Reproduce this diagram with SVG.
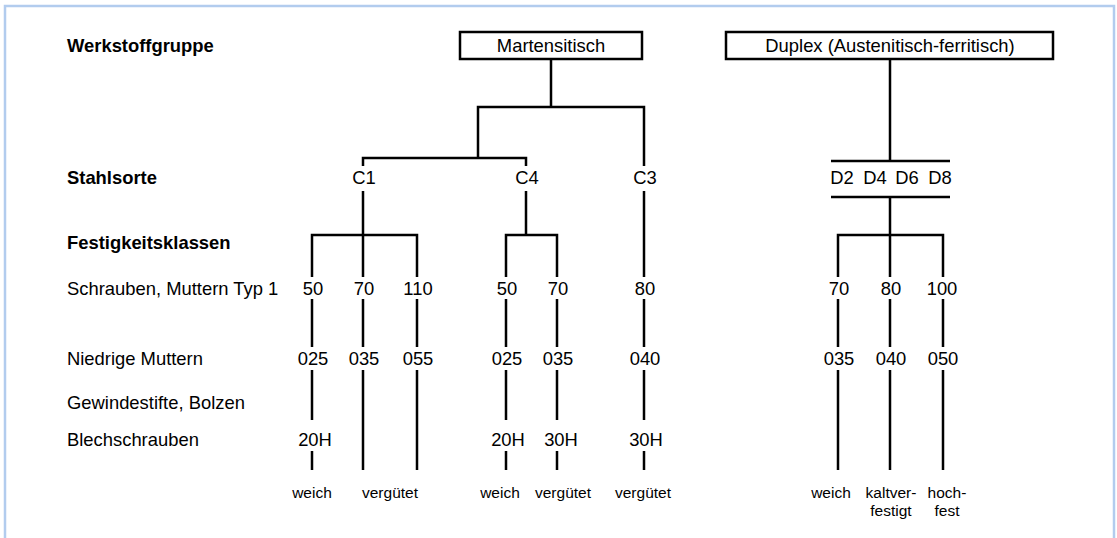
<svg xmlns="http://www.w3.org/2000/svg" width="1117" height="538" viewBox="0 0 1117 538">
  <style>
    text { font-family: "Liberation Sans", Arial, Helvetica, sans-serif; fill: #000; }
    .t { font-size: 18.4px; }
    .b { font-size: 18.4px; font-weight: bold; }
    .c { font-size: 18.4px; text-anchor: middle; }
    .s { font-size: 15.5px; text-anchor: middle; }
    .box { fill: #fff; stroke: #000; stroke-width: 2.5; }
    .ln { fill: none; stroke: #000; stroke-width: 2.5; stroke-linecap: butt; stroke-linejoin: miter; }
  </style>

  <!-- frame -->
  <rect x="5" y="6" width="1109" height="600" fill="#fff" stroke="#b2ccee" stroke-width="2.5"/>

  <!-- row headings -->
  <g id="headings">
    <text class="b" x="67" y="52">Werkstoffgruppe</text>
    <text class="b" x="67" y="184">Stahlsorte</text>
    <text class="b" x="67" y="249">Festigkeitsklassen</text>
    <text class="t" x="67" y="295">Schrauben, Muttern Typ 1</text>
    <text class="t" x="67" y="365">Niedrige Muttern</text>
    <text class="t" x="67" y="409">Gewindestifte, Bolzen</text>
    <text class="t" x="67" y="446">Blechschrauben</text>
  </g>

  <!-- connectors -->
  <g id="connectors" class="ln">
    <!-- Martensitisch tree -->
    <path class="ln" d="M551 59V107M478 158V107H644V166M363 166V158H526V166"/>
    <!-- C1 -->
    <path class="ln" d="M363 191V277M312 277V235H417V277"/>
    <!-- C4 -->
    <path class="ln" d="M526 191V235M506 277V235H557V277"/>
    <!-- C3 -->
    <path class="ln" d="M644 191V277"/>
    <!-- Duplex -->
    <path class="ln" d="M890 59V161M831 161H950M831 197H950M890 197V277M838 277V235H943V277"/>
    <!-- strength class to low nuts -->
    <path class="ln" d="M312 299V347M363 299V347M417 299V347M506 299V347M557 299V347M644 299V347M838 299V347M890 299V347M943 299V347"/>
    <!-- low nuts downward -->
    <path class="ln" d="M312 370V420M312 451V470M363 370V470M417 370V470M506 370V420M506 451V470M557 370V420M557 451V470M644 370V420M644 451V470M838 370V470M890 370V470M943 370V470"/>
  </g>

  <!-- material groups -->
  <g id="martensitisch">
    <rect class="box" x="460" y="32" width="182" height="27"/>
    <text class="c" x="551" y="52">Martensitisch</text>
  </g>
  <g id="duplex">
    <rect class="box" x="726" y="32" width="327" height="27"/>
    <text class="c" x="890" y="52">Duplex (Austenitisch-ferritisch)</text>
  </g>

  <!-- steel grades -->
  <g id="c1"><text class="c" x="364" y="184">C1</text></g>
  <g id="c4"><text class="c" x="527" y="184">C4</text></g>
  <g id="c3"><text class="c" x="645" y="184">C3</text></g>
  <g id="d-grades">
    <text class="c" x="842" y="184">D2</text>
    <text class="c" x="875" y="184">D4</text>
    <text class="c" x="907" y="184">D6</text>
    <text class="c" x="940" y="184">D8</text>
  </g>

  <!-- C1 classes -->
  <g id="c1-50">
    <text class="c" x="313" y="295">50</text>
    <text class="c" x="313" y="365">025</text>
    <text class="c" x="315" y="446">20H</text>
  </g>
  <g id="c1-70">
    <text class="c" x="364" y="295">70</text>
    <text class="c" x="364" y="365">035</text>
  </g>
  <g id="c1-110">
    <text class="c" x="418" y="295">110</text>
    <text class="c" x="418" y="365">055</text>
  </g>
  <g id="c1-states">
    <text class="s" x="312" y="498">weich</text>
    <text class="s" x="390" y="498">vergütet</text>
  </g>

  <!-- C4 classes -->
  <g id="c4-50">
    <text class="c" x="507" y="295">50</text>
    <text class="c" x="507" y="365">025</text>
    <text class="c" x="508" y="446">20H</text>
  </g>
  <g id="c4-70">
    <text class="c" x="558" y="295">70</text>
    <text class="c" x="558" y="365">035</text>
    <text class="c" x="561" y="446">30H</text>
  </g>
  <g id="c4-states">
    <text class="s" x="500" y="498">weich</text>
    <text class="s" x="563" y="498">vergütet</text>
  </g>

  <!-- C3 classes -->
  <g id="c3-80">
    <text class="c" x="645" y="295">80</text>
    <text class="c" x="645" y="365">040</text>
    <text class="c" x="646" y="446">30H</text>
    <text class="s" x="643" y="498">vergütet</text>
  </g>

  <!-- Duplex classes -->
  <g id="d-70">
    <text class="c" x="839" y="295">70</text>
    <text class="c" x="839" y="365">035</text>
    <text class="s" x="831" y="498">weich</text>
  </g>
  <g id="d-80">
    <text class="c" x="891" y="295">80</text>
    <text class="c" x="891" y="365">040</text>
    <text class="s" x="891" y="498">kaltver-</text>
    <text class="s" x="891" y="516">festigt</text>
  </g>
  <g id="d-100">
    <text class="c" x="942" y="295">100</text>
    <text class="c" x="943" y="365">050</text>
    <text class="s" x="947" y="498">hoch-</text>
    <text class="s" x="947" y="516">fest</text>
  </g>
</svg>
